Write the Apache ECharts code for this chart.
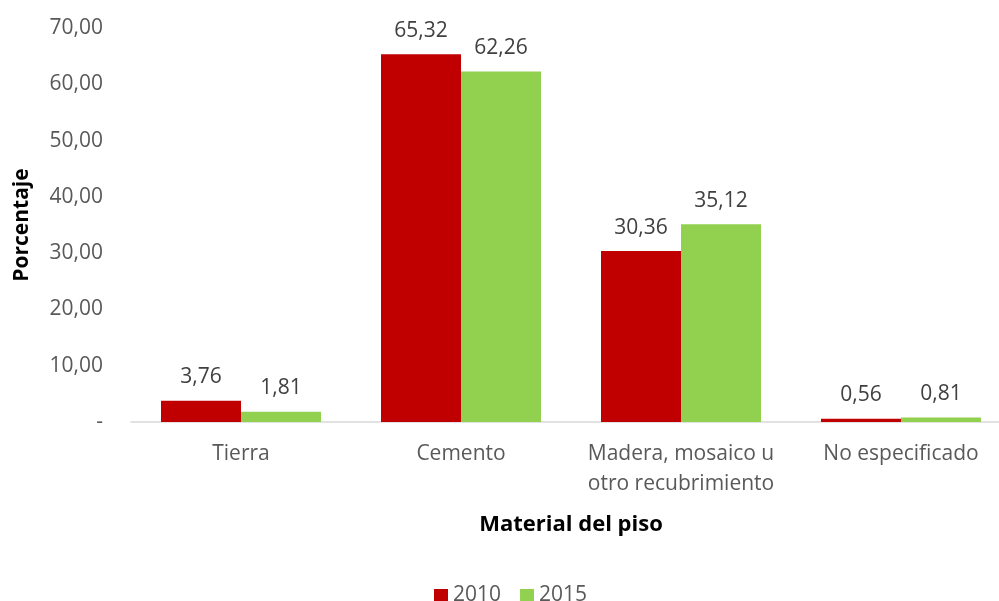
<!DOCTYPE html>
<html>
<head>
<meta charset="utf-8">
<script src="https://cdn.jsdelivr.net/npm/echarts@6/dist/echarts.min.js"></script>
<style>
  html, body { margin: 0; padding: 0; background: #fff; }
  #chart { width: 999px; height: 601px; }
</style>
</head>
<body>
<div id="chart"></div>
<script>
// Material del piso de las viviendas (porcentaje)
const categories = ['Tierra', 'Cemento', 'Madera, mosaico u\notro recubrimiento', 'No especificado'];
const values2010 = [3.76, 65.32, 30.36, 0.56];
const values2015 = [1.81, 62.26, 35.12, 0.81];
const seriesNames = ['2010', '2015'];
const yTicks = { min: 0, max: 70, interval: 10 };

const FONT = '"Open Sans", sans-serif';
const fmt = v => v === 0 ? '-' : v.toFixed(2).replace('.', ',');

const chart = echarts.init(document.getElementById('chart'), null, { renderer: 'canvas' });

const labelStyle = {
  show: true,
  position: 'top',
  distance: 13,
  color: '#404040',
  fontFamily: FONT,
  fontSize: 21,
  formatter: p => fmt(p.value)
};

chart.setOption({
  animation: false,
  textStyle: { fontFamily: FONT },
  grid: { left: 131, top: 28, right: -12, bottom: 179, containLabel: false, outerBoundsMode: 'none' },
  legend: {
    data: seriesNames,
    bottom: -5,
    left: 434,
    padding: 0,
    itemWidth: 14,
    itemHeight: 13,
    itemGap: 19,
    icon: 'rect',
    textStyle: { color: '#595959', fontSize: 21, fontFamily: FONT, padding: [0, 0, 0, 0] }
  },
  xAxis: {
    type: 'category',
    data: categories,
    name: 'Material del piso',
    nameLocation: 'middle',
    nameGap: 92,
    nameTextStyle: { fontWeight: 'bold', fontSize: 22, color: '#000', fontFamily: FONT },
    axisLine: { lineStyle: { color: '#d9d9d9', width: 1.5 } },
    axisTick: { show: false },
    axisLabel: { interval: 0, color: '#595959', fontSize: 21, fontFamily: FONT, margin: 17, lineHeight: 30 }
  },
  yAxis: {
    type: 'value',
    min: yTicks.min,
    max: yTicks.max,
    interval: yTicks.interval,
    name: 'Porcentaje',
    nameLocation: 'middle',
    nameGap: 98,
    nameTextStyle: { fontWeight: 'bold', fontSize: 21, color: '#000', fontFamily: FONT },
    splitLine: { show: false },
    axisLine: { show: false },
    axisTick: { show: false },
    axisLabel: { color: '#595959', fontSize: 21, fontFamily: FONT, margin: 28, formatter: fmt }
  },
  series: [
    {
      name: seriesNames[0],
      type: 'bar',
      data: values2010,
      barWidth: 80,
      barGap: '0%',
      itemStyle: { color: '#c00000' },
      label: labelStyle
    },
    {
      name: seriesNames[1],
      type: 'bar',
      data: values2015,
      barWidth: 80,
      barGap: '0%',
      itemStyle: { color: '#92d050' },
      label: labelStyle
    }
  ]
});
</script>
</body>
</html>
